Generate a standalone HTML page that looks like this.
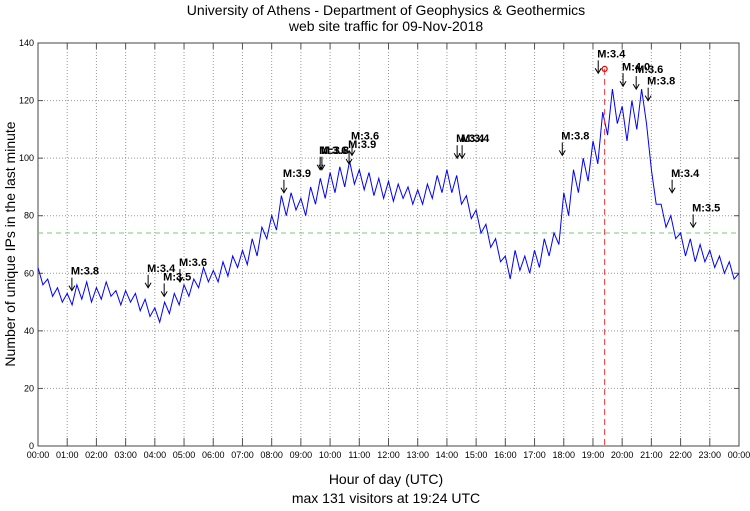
<!DOCTYPE html>
<html><head><meta charset="utf-8"><style>
body{margin:0;background:#fff}
svg{display:block;font-family:"Liberation Sans","DejaVu Sans",sans-serif}
</style></head><body>
<svg id="chart" width="750" height="511">
<text x="386" y="15" font-size="14" text-anchor="middle">University of Athens - Department of Geophysics &amp; Geothermics</text>
<text x="386" y="31" font-size="14" text-anchor="middle">web site traffic for 09-Nov-2018</text>
<text x="386" y="484" font-size="14" text-anchor="middle">Hour of day (UTC)</text>
<text x="386" y="503" font-size="14" text-anchor="middle">max 131 visitors at 19:24 UTC</text>
<text transform="translate(15,244) rotate(-90)" font-size="14" text-anchor="middle">Number of unique IPs in the last minute</text>
<g id="grid"></g><g id="series"></g><g id="marks"></g>
</svg>
<script>
const yTicks=[0,20,40,60,80,100,120,140];
const xTickLabels=["00:00","01:00","02:00","03:00","04:00","05:00","06:00","07:00","08:00","09:00","10:00","11:00","12:00","13:00","14:00","15:00","16:00","17:00","18:00","19:00","20:00","21:00","22:00","23:00","00:00"];
// visitors sampled every 10 minutes
const visitors=[62,56,58,52,55,50, 53,49,56,51,57,50, 55,51,57,52,54,49, 54,50,53,47,51,45,
48,43,50,46,53,49, 56,52,58,55,62,57, 61,57,64,59,66,62, 68,63,72,66,76,72,
80,75,87,80,88,82, 86,80,90,84,93,86, 95,88,97,90,99,91, 96,89,95,87,93,86,
92,85,91,86,90,84, 89,84,91,86,94,88, 96,88,94,84,87,79, 82,74,77,69,72,64,
66,58,68,61,66,60, 68,62,72,66,74,70, 88,80,96,88,100,92, 106,98,116,108,124,112,
118,106,120,110,124,112, 96,84,84,76,80,72, 74,66,72,64,70,64, 68,62,66,60,64,58, 60];
const meanLevel=74;
const maxHour=19.4, maxValue=131;
const quakeLabels=["M:3.8","M:3.4","M:3.5","M:3.6","M:3.9","M:3.6","M:3.8","M:3.9","M:3.6","M:3.4","M:3.4","M:3.8","M:3.4","M:4.0","M:3.6","M:3.8","M:3.4","M:3.5"];
const quakeHours=[1.16,3.77,4.32,4.86,8.42,9.66,9.72,10.65,10.75,14.35,14.52,17.95,19.18,20.03,20.48,20.89,21.71,22.43];
const quakeLevels=[63,64,61,66,97,105,105,107,110,109,109,110,138.5,134,133,129,97,85];

const X0=38,X1=739,Y0=446,Y1=43;
const xs=h=>X0+(X1-X0)*h/24, ys=v=>Y0-(Y0-Y1)*v/140;
const NS="http://www.w3.org/2000/svg";
function mk(tag,attrs,parent,txt){const e=document.createElementNS(NS,tag);for(const k in attrs)e.setAttribute(k,attrs[k]);if(txt!==undefined)e.textContent=txt;parent.appendChild(e);return e;}
const grid=document.getElementById('grid'),series=document.getElementById('series'),marks=document.getElementById('marks');
yTicks.forEach(v=>{
  const l=mk('line',{x1:X0,x2:X1,y1:ys(v),y2:ys(v),stroke:'#999','stroke-dasharray':'1,2','stroke-width':1},grid);
  
  
  const t=mk('text',{x:X0-4,y:ys(v)+3,'font-size':9,'text-anchor':'end'},grid,String(v));
  
  
  mk('line',{x1:X0,x2:X0+5,y1:ys(v),y2:ys(v),stroke:'#555'},grid);
  mk('line',{x1:X1,x2:X1-5,y1:ys(v),y2:ys(v),stroke:'#555'},grid);
});
xTickLabels.forEach((s,i)=>{
  const x=xs(i);
  const l=mk('line',{x1:x,x2:x,y1:Y1,y2:Y0,stroke:'#999','stroke-dasharray':'1,2','stroke-width':1},grid);
  
  
  mk('line',{x1:x,x2:x,y1:Y0,y2:Y0-8,stroke:'#555'},grid);
  mk('line',{x1:x,x2:x,y1:Y1,y2:Y1+6,stroke:'#555'},grid);
  const t=mk('text',{x:x,y:Y0+12,'font-size':9,'text-anchor':'middle'},grid,s);
  
  
});
const frame=mk('rect',{x:X0,y:Y1,width:X1-X0,height:Y0-Y1,fill:'none',stroke:'#444'},grid);


const ml=mk('line',{x1:X0,x2:X1,y1:ys(meanLevel),y2:ys(meanLevel),stroke:'#7c7','stroke-dasharray':'5,4'},series);


const pts=visitors.map((v,i)=>xs(i*24/(visitors.length-1)).toFixed(1)+','+ys(v).toFixed(1)).join(' ');
const pl=mk('polyline',{points:pts,fill:'none',stroke:'#00f','stroke-width':1},series);


const mv=mk('line',{x1:xs(maxHour),x2:xs(maxHour),y1:ys(maxValue),y2:Y0,stroke:'#e33','stroke-dasharray':'6,4','stroke-width':1},series);


const mc=mk('circle',{cx:xs(maxHour),cy:ys(maxValue),r:2.5,fill:'none',stroke:'#e00','stroke-width':1.2},series);


quakeLabels.forEach((s,i)=>{
  const x=xs(quakeHours[i]),y=ys(quakeLevels[i]);
  const g=mk('g',{},marks);
  
  
  mk('text',{x:x-1,y:y+10,'font-size':11,'font-weight':'bold'},g,s);
  mk('line',{x1:x,x2:x,y1:y+13,y2:y+25,stroke:'#000','stroke-width':1},g);
  mk('path',{d:`M${x-3},${y+21} L${x},${y+26} L${x+3},${y+21}`,fill:'none',stroke:'#000','stroke-width':1},g);
});
</script>
</body></html>
